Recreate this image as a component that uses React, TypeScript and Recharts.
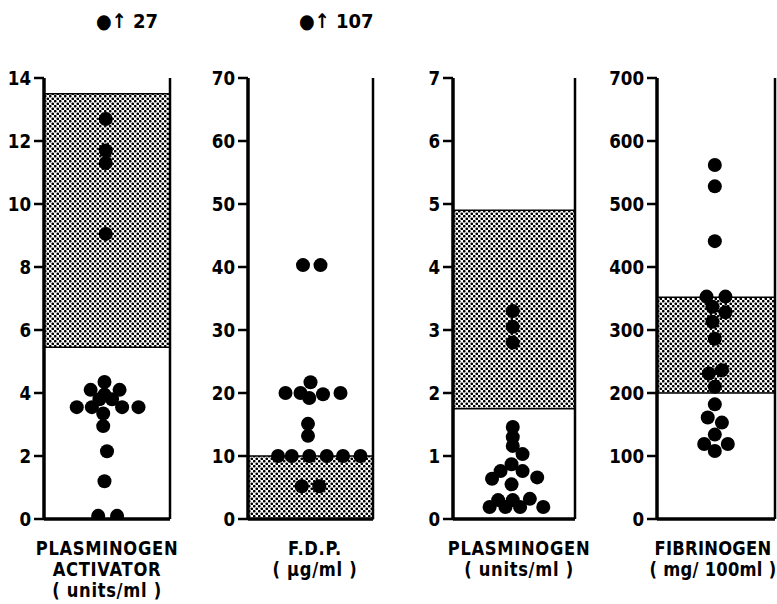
import React from "react";
import {
  ReferenceArea,
  ReferenceLine,
  Scatter,
  ScatterChart,
  XAxis,
  YAxis,
} from "recharts";

// x = horizontal offset inside the column (-50..50), y = measured value
const activatorX = [-1, -1, -1, -1, -2, -13, 10, -2, -6, 4, -24, -12, 12, 25, -3, -3, 0, -2, -7, 8];
const activatorY = [12.7, 11.7, 11.3, 9.05, 4.35, 4.1, 4.1, 3.95, 3.8, 3.8, 3.55, 3.55, 3.55, 3.55, 3.35, 2.95, 2.15, 1.2, 0.1, 0.1];

const fdpX = [-6, 8, 0, -20, -8, -1, 10, 24, -2, -2, -26, -15, -1, 13, 26, 40, -7, 7];
const fdpY = [40.3, 40.3, 21.7, 20, 20, 19.2, 19.8, 20, 15.1, 13.2, 10, 10, 10, 10, 10, 10, 5.2, 5.2];

const plasminogenX = [-1, -1, -1, -1, -1, -1, 7, -2, -11, 7, -18, 19, -2, -13, -1, 13, -20, -7, 5, 24];
const plasminogenY = [3.3, 3.05, 2.8, 1.46, 1.3, 1.16, 1.03, 0.87, 0.76, 0.76, 0.64, 0.66, 0.55, 0.3, 0.3, 0.32, 0.19, 0.19, 0.19, 0.19];

const fibrinogenX = [-1, -1, -1, -8, 8, -3, 8, -3, -1, 5, -6, -1, -1, -7, 5, -1, -10, 10, -1];
const fibrinogenY = [562, 528, 441, 353, 353, 337, 328, 313, 286, 236, 231, 210, 182, 161, 153, 134, 119, 119, 108];

const activatorTicks = [0, 2, 4, 6, 8, 10, 12, 14];
const fdpTicks = [0, 10, 20, 30, 40, 50, 60, 70];
const plasminogenTicks = [0, 1, 2, 3, 4, 5, 6, 7];
const fibrinogenTicks = [0, 100, 200, 300, 400, 500, 600, 700];

// normal ranges (shaded)
const activatorBand = [5.45, 13.5];
const fdpBand = [0, 10];
const plasminogenBand = [1.75, 4.9];
const fibrinogenBand = [200, 352];

const FONT = "'DejaVu Sans', sans-serif";
const TOP = 78;
const BOTTOM = 519;
const AXIS_W = 60;

const zip = (xs: number[], ys: number[]) => xs.map((x, i) => ({ x, y: ys[i] }));

// narrow bold tick text, like the original's condensed lettering
const NarrowTick = (props: any) => {
  const { x, y, payload } = props;
  return (
    <text
      x={0}
      y={0}
      transform={`translate(${x},${y}) scale(0.88,1)`}
      textAnchor="end"
      dominantBaseline="central"
      fill="#000"
      fontSize={19}
      fontWeight={700}
      fontFamily={FONT}
    >
      {payload.value}
    </text>
  );
};

interface PanelProps {
  id: string;
  axisX: number;
  plotW: number;
  xs: number[];
  ys: number[];
  ticks: number[];
  band: number[];
}

const Panel: React.FC<PanelProps> = ({ id, axisX, plotW, xs, ys, ticks, band }) => {
  const max = ticks[ticks.length - 1];
  return (
    <div style={{ position: "absolute", left: axisX - AXIS_W, top: 0 }}>
      <ScatterChart
        width={AXIS_W + plotW + 3}
        height={604}
        margin={{ top: TOP, bottom: 604 - BOTTOM, left: 0, right: 3 }}
      >
        <defs>
          <pattern id={`stip-${id}`} width="5" height="5" patternUnits="userSpaceOnUse">
            <rect width="5" height="5" fill="#fff" />
            <circle cx="1.25" cy="1.25" r="1.35" fill="#000" />
            <circle cx="3.75" cy="3.75" r="1.35" fill="#000" />
          </pattern>
        </defs>
        <XAxis type="number" dataKey="x" domain={[-50, 50]} hide />
        <YAxis
          type="number"
          dataKey="y"
          domain={[0, max]}
          ticks={ticks}
          interval={0}
          width={AXIS_W}
          allowDataOverflow
          tickSize={10}
          tickMargin={3}
          axisLine={{ stroke: "#000", strokeWidth: 3.5 }}
          tickLine={{ stroke: "#000", strokeWidth: 2.5 }}
          tick={<NarrowTick />}
        />
        <ReferenceArea
          x1={-50}
          x2={50}
          y1={band[0]}
          y2={band[1]}
          fill={`url(#stip-${id})`}
          fillOpacity={1}
          stroke="#000"
          strokeWidth={1.5}
        />
        <ReferenceLine x={50} stroke="#000" strokeWidth={2.5} />
        <ReferenceLine y={0} stroke="#000" strokeWidth={3.5} />
        <Scatter
          data={zip(xs, ys)}
          isAnimationActive={false}
          shape={(p: any) => <circle cx={p.cx} cy={p.cy} r={7} fill="#000" />}
        />
      </ScatterChart>
    </div>
  );
};

const labelStyle: React.CSSProperties = {
  position: "absolute",
  top: 538,
  width: 180,
  textAlign: "center",
  fontFamily: FONT,
  fontWeight: 700,
  fontSize: 19,
  lineHeight: "21px",
  letterSpacing: 0.8,
  color: "#000",
  transform: "scaleX(0.86)",
  transformOrigin: "center top",
};

const noteStyle: React.CSSProperties = {
  position: "absolute",
  top: 9,
  fontFamily: FONT,
  fontWeight: 700,
  fontSize: 20,
  color: "#000",
  whiteSpace: "nowrap",
  transform: "scaleX(0.9)",
  transformOrigin: "left top",
};

export default function App() {
  return (
    <div
      style={{
        position: "absolute",
        left: 0,
        top: 0,
        width: 777,
        height: 604,
        background: "#fff",
        overflow: "hidden",
      }}
    >
      <div style={{ ...noteStyle, left: 96 }}>●↑ 27</div>
      <div style={{ ...noteStyle, left: 299 }}>●↑ 107</div>

      <Panel id="a" axisX={44} plotW={126} xs={activatorX} ys={activatorY} ticks={activatorTicks} band={activatorBand} />
      <Panel id="b" axisX={248} plotW={125} xs={fdpX} ys={fdpY} ticks={fdpTicks} band={fdpBand} />
      <Panel id="c" axisX={453} plotW={122} xs={plasminogenX} ys={plasminogenY} ticks={plasminogenTicks} band={plasminogenBand} />
      <Panel id="d" axisX={657} plotW={118} xs={fibrinogenX} ys={fibrinogenY} ticks={fibrinogenTicks} band={fibrinogenBand} />

      <div style={{ ...labelStyle, left: 17 }}>
        PLASMINOGEN
        <br />
        ACTIVATOR
        <br />( units/ml )
      </div>
      <div style={{ ...labelStyle, left: 225 }}>
        F.D.P.
        <br />( µg/ml )
      </div>
      <div style={{ ...labelStyle, left: 429 }}>
        PLASMINOGEN
        <br />( units/ml )
      </div>
      <div style={{ ...labelStyle, left: 623, letterSpacing: 0.3 }}>
        FIBRINOGEN
        <br />( mg/ 100ml )
      </div>
    </div>
  );
}
